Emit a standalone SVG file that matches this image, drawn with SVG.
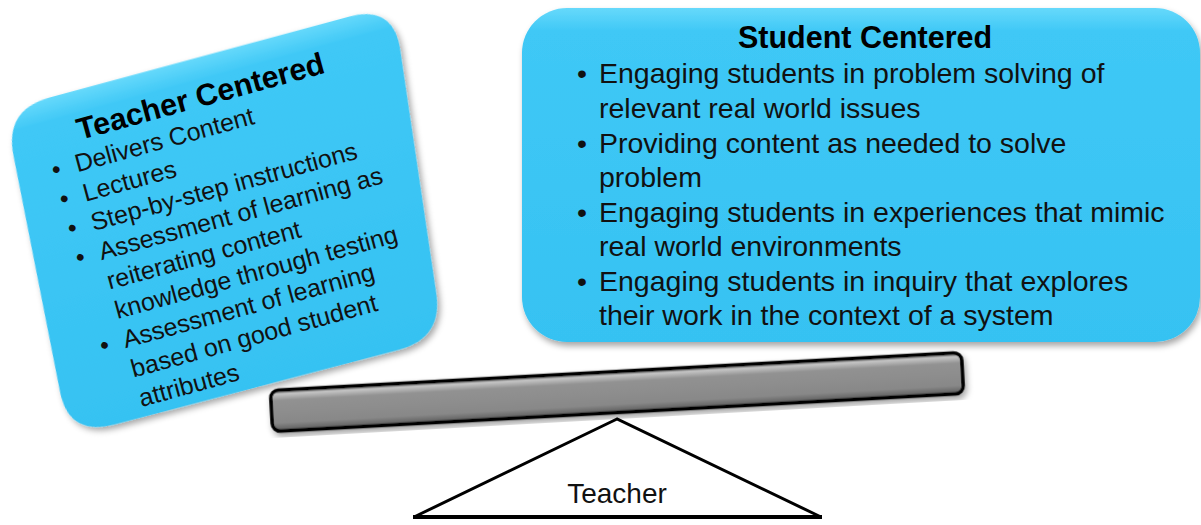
<svg xmlns="http://www.w3.org/2000/svg" width="1201" height="525" viewBox="0 0 1201 525">
  <defs>
    <linearGradient id="blueFill" x1="0" y1="0" x2="0" y2="1">
      <stop offset="0" stop-color="#66d9fb"/>
      <stop offset="0.07" stop-color="#3fc8f6"/>
      <stop offset="1" stop-color="#36c2f2"/>
    </linearGradient>
    <linearGradient id="beamFill" x1="0" y1="0" x2="0" y2="1">
      <stop offset="0" stop-color="#4a4a4a"/>
      <stop offset="0.1" stop-color="#c4c4c4"/>
      <stop offset="0.25" stop-color="#929292"/>
      <stop offset="0.8" stop-color="#888888"/>
      <stop offset="1" stop-color="#5a5a5a"/>
    </linearGradient>
    <filter id="shadow" x="-10%" y="-10%" width="120%" height="125%">
      <feDropShadow dx="2" dy="4" stdDeviation="3" flood-color="#000" flood-opacity="0.35"/>
    </filter>
  </defs>
  <style>
    .box { fill: url(#blueFill); filter: url(#shadow); }
    .title { font-family: "Liberation Sans", Arial, sans-serif; font-weight: bold; fill: #000; }
    .body { font-family: "Liberation Sans", Arial, sans-serif; fill: #111; }
    .lt { font-size: 30.5px; }
    .lb { font-size: 25px; }
    .rt { font-size: 30.5px; }
    .rb { font-size: 28.5px; }
  </style>
  <rect width="1201" height="525" fill="#ffffff"/>

  <g id="teacher-centered" transform="translate(80,140) rotate(-15.3)">
    <path class="box" d="M -18 -48.9 L 292 -48.1 Q 338 -48 332.75 -3.3 L 303.25 241.3 Q 298 287 252 286.5 L -42 283.5 Q -89 283 -85.7 238.1 L -68.3 -2.1 Q -65 -49 -18 -48.9 Z"/>
    <text class="title lt" x="0" y="0">Teacher Centered</text>
    <g class="body lb">
      <text x="-35" y="30.5">•</text>
      <text x="-11" y="30.5">Delivers Content</text>
      <text x="-35" y="60.9">•</text>
      <text x="-11" y="60.9">Lectures</text>
      <text x="-35" y="91.3">•</text>
      <text x="-11" y="91.3">Step-by-step instructions</text>
      <text x="-35" y="121.7">•</text>
      <text x="-11" y="121.7">Assessment of learning as</text>
      <text x="-11" y="152.1">reiterating content</text>
      <text x="-11" y="182.5">knowledge through testing</text>
      <text x="-35" y="212.9">•</text>
      <text x="-11" y="212.9">Assessment of learning</text>
      <text x="-11" y="243.3">based on good student</text>
      <text x="-11" y="273.7">attributes</text>
    </g>
  </g>

  <g id="student-centered">
    <rect class="box" x="522" y="8" width="678" height="334" rx="45" ry="45"/>
    <text class="title rt" x="865" y="48" text-anchor="middle">Student Centered</text>
    <g class="body rb">
      <text x="577" y="83">•</text>
      <text x="599" y="83">Engaging students in problem solving of</text>
      <text x="599" y="117.5">relevant real world issues</text>
      <text x="577" y="152.5">•</text>
      <text x="599" y="152.5">Providing content as needed to solve</text>
      <text x="599" y="187">problem</text>
      <text x="577" y="221.5">•</text>
      <text x="599" y="221.5">Engaging students in experiences that mimic</text>
      <text x="599" y="256">real world environments</text>
      <text x="577" y="290.5">•</text>
      <text x="599" y="290.5">Engaging students in inquiry that explores</text>
      <text x="599" y="325">their work in the context of a system</text>
    </g>
  </g>

  <g id="fulcrum">
    <polygon points="617,419 414,517 821,517" fill="#ffffff" stroke="#000" stroke-width="3" stroke-linejoin="miter"/>
    <line x1="413" y1="517" x2="822" y2="517" stroke="#000" stroke-width="4"/>
    <text class="body" x="617" y="503" text-anchor="middle" font-size="28px">Teacher</text>
  </g>

  <g id="beam" transform="translate(617,392) rotate(-3.15)">
    <rect x="-346" y="-20.5" width="692" height="41" rx="8" ry="8" fill="url(#beamFill)" stroke="#000" stroke-width="3.5" filter="url(#shadow)"/>
  </g>

  <g id="connectors"></g>
</svg>
